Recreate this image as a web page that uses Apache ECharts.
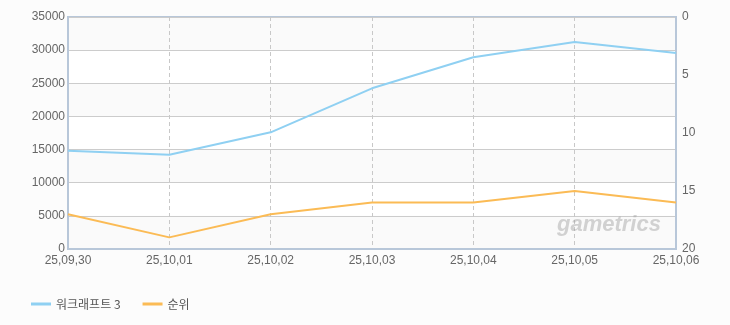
<!DOCTYPE html>
<html><head><meta charset="utf-8">
<script src="https://cdn.jsdelivr.net/npm/echarts@6/dist/echarts.min.js"></script>
<style>html,body{margin:0;padding:0;background:#fcfcfc;}#c{width:730px;height:325px;}</style>
</head><body><div id="c"></div>
<script>
const categories = ['25,09,30','25,10,01','25,10,02','25,10,03','25,10,04','25,10,05','25,10,06'];
const players = [14830, 14230, 17600, 24240, 28920, 31230, 29570];
const rank = [17, 19, 17, 16, 16, 15, 16];
const leftTicks = [0, 35000, 5000];
const rightTicks = [0, 20, 5];

const chart = echarts.init(document.getElementById('c'));
const lbl = {color:'#666', fontSize:12, fontFamily:'Liberation Sans, Arial, sans-serif'};
chart.setOption({
  backgroundColor:'#fcfcfc',
  animation:false,
  grid:{left:68, right:54, top:17, bottom:76, show:true, borderColor:'#b8c7d9', borderWidth:2, backgroundColor:'transparent'},
  legend:{left:26, top:293, icon:'rect', itemWidth:20, itemHeight:3, itemGap:22,
    textStyle:{color:'#555', fontSize:12, fontFamily:'Noto Sans CJK KR, sans-serif'},
    data:['워크래프트 3','순위']},
  xAxis:{type:'category', data:categories, boundaryGap:false,
    axisLine:{lineStyle:{color:'#b8c7d9', width:2}}, axisTick:{show:false},
    axisLabel:Object.assign({margin:6, showMaxLabel:true, showMinLabel:true, interval:0}, lbl),
    splitLine:{show:true, lineStyle:{color:'#c8c8c8', type:[4,3], width:1}}},
  yAxis:[
    {type:'value', min:leftTicks[0], max:leftTicks[1], interval:leftTicks[2], position:'left',
      axisLine:{show:true, lineStyle:{color:'#b8c7d9', width:2}}, axisTick:{show:false},
      axisLabel:Object.assign({margin:3, formatter:v=>String(v)}, lbl),
      splitLine:{lineStyle:{color:'#cccccc', width:1}},
      splitArea:{show:true, areaStyle:{color:['#fafafa','#ffffff']}}},
    {type:'value', min:rightTicks[0], max:rightTicks[1], interval:rightTicks[2], inverse:true, position:'right',
      axisLine:{show:true, lineStyle:{color:'#b8c7d9', width:2}}, axisTick:{show:false},
      axisLabel:Object.assign({margin:6, formatter:v=>String(v)}, lbl), splitLine:{show:false}}
  ],
  graphic:[{type:'text', left:557, top:214, z:1, silent:true,
    style:{text:'gametrics', fill:'rgba(160,160,160,0.45)', font:'italic bold 22px "Liberation Sans", sans-serif'}}],
  series:[
    {name:'워크래프트 3', type:'line', data:players, yAxisIndex:0, symbol:'none', z:3,
      itemStyle:{color:'#8fd0f2'}, lineStyle:{color:'#8fd0f2', width:2}},
    {name:'순위', type:'line', data:rank, yAxisIndex:1, symbol:'none', z:3,
      itemStyle:{color:'#fbbb55'}, lineStyle:{color:'#fbbb55', width:2}}
  ]
});
</script></body></html>
